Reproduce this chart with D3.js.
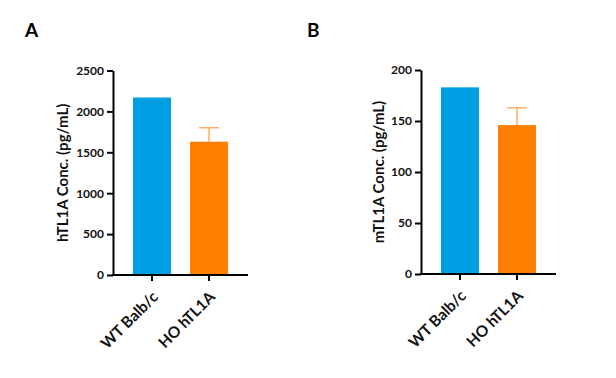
<!DOCTYPE html>
<html><head><meta charset="utf-8">
<script src="https://cdn.jsdelivr.net/npm/d3@7"></script>
<style>body{margin:0;background:#fff}svg{display:block}text{font-family:Lato,"Open Sans",sans-serif}</style>
</head><body><svg id="c" width="616" height="378"></svg>
<script>
const categories = ["WT Balb/c", "HO hTL1A"];
const hValues = [2170, 1630];
const hErrUpper = [null, 1800];
const hTicks = [0, 500, 1000, 1500, 2000, 2500];
const mValues = [183, 146];
const mErrUpper = [null, 163];
const mTicks = [0, 50, 100, 150, 200];
const barColors = ["#009FE3", "#FF8000"];
const errColor = "#FFB066";

const svg = d3.select("#c");

function panel(opt){
  const g = svg.append("g");
  const y = d3.scaleLinear().domain([0, opt.max]).range([opt.y0, opt.y1]);
  const x = d3.scaleBand().domain(categories).range([opt.x0, opt.x1]).paddingInner(1/3).paddingOuter(0.35);
  g.selectAll("rect.bar").data(opt.values).join("rect")
    .attr("x",(d,i)=>x(categories[i])).attr("width",x.bandwidth())
    .attr("y",d=>y(d)).attr("height",d=>y(0)-y(d))
    .attr("fill",(d,i)=>barColors[i]);
  opt.err.forEach((e,i)=>{
    if(e==null) return;
    const cx = x(categories[i]) + x.bandwidth()/2;
    g.append("line").attr("x1",cx).attr("x2",cx).attr("y1",y(opt.values[i])).attr("y2",y(e))
      .attr("stroke",errColor).attr("stroke-width",1.5);
    g.append("line").attr("x1",cx-10).attr("x2",cx+10).attr("y1",y(e)).attr("y2",y(e))
      .attr("stroke",errColor).attr("stroke-width",1.5);
  });
  const ya = g.append("g").attr("transform",`translate(${opt.x0},0)`)
    .call(d3.axisLeft(y).tickValues(opt.ticks).tickFormat(d3.format("d")).tickSize(6).tickPadding(3).tickSizeOuter(0));
  ya.select(".domain").attr("stroke","#000").attr("stroke-width",2);
  ya.selectAll(".tick line").attr("stroke","#000").attr("stroke-width",2);
  ya.selectAll(".tick text").attr("font-size",12).attr("font-weight",700).attr("fill","#111")
    .style("font-family","Lato, sans-serif");
  const xa = g.append("g").attr("transform",`translate(0,${opt.y0})`)
    .call(d3.axisBottom(x).tickSize(6).tickSizeOuter(0).tickFormat(""));
  xa.select(".domain").attr("stroke","#000").attr("stroke-width",2)
    .attr("d",`M${opt.x0-1},0H${opt.x1}`);
  xa.selectAll(".tick line").attr("stroke","#000").attr("stroke-width",2);
  g.selectAll("text.cat").data(categories).join("text").attr("class","cat")
    .attr("transform",d=>`translate(${x(d)+x.bandwidth()/2+7},${opt.y0+23}) rotate(-45)`)
    .attr("text-anchor","end").attr("font-size",15.5).attr("font-weight",700).attr("fill","#111")
    .text(d=>d);
  g.append("text").attr("transform",`translate(${opt.tx},${(opt.y0+opt.y1)/2}) rotate(-90)`)
    .attr("text-anchor","middle").attr("dy","0.35em").attr("font-size",15).attr("font-weight",700).attr("fill","#111")
    .text(opt.title);
  g.append("text").attr("x",opt.lx).attr("y",37).attr("font-size",19).attr("font-weight",700).attr("fill","#000").text(opt.letter);
}

panel({values:hValues, err:hErrUpper, ticks:hTicks, max:2500, x0:113, x1:248, y0:275, y1:70.5, tx:63, title:"hTL1A Conc. (pg/mL)", letter:"A", lx:25});
panel({values:mValues, err:mErrUpper, ticks:mTicks, max:200, x0:421, x1:556, y0:274, y1:70, tx:379, title:"mTL1A Conc. (pg/mL)", letter:"B", lx:307});
</script></body></html>
